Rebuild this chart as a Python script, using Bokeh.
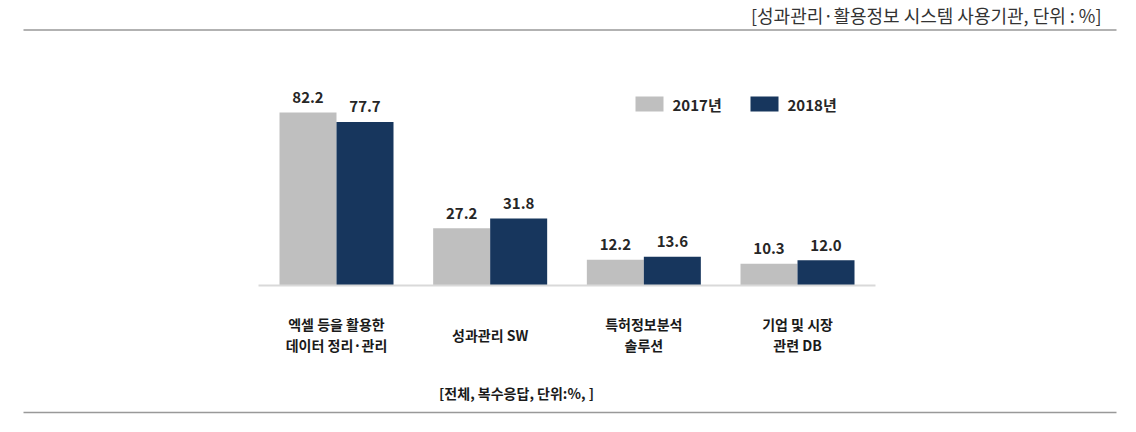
from bokeh.plotting import figure
from bokeh.models import Range1d, ColumnDataSource
from bokeh.core.properties import value
from bokeh.embed import file_html
from bokeh.resources import INLINE

# ---- data ----
categories = ["엑셀 등을 활용한\n데이터 정리·관리", "성과관리 SW", "특허정보분석\n솔루션", "기업 및 시장\n관련 DB"]
series_names = ["2017년", "2018년"]
values_2017 = [82.2, 27.2, 12.2, 10.3]
values_2018 = [77.7, 31.8, 13.6, 12.0]
title_text = "[성과관리·활용정보 시스템 사용기관, 단위 : %]"
caption_text = "[전체, 복수응답, 단위:%, ]"

# ---- layout (pixels from the top-left of the picture) ----
W, H = 1120, 416
CX0 = 336.0      # px of first group centre
SX = 153.67      # px per group
BASE = 285.0     # px (from top) of y=0
SY = 2.105       # px per %

def X(px):
    return (px - CX0) / SX

def Y(py):
    return (BASE - py) / SY

GRAY = "#BFBFBF"
NAVY = "#17365D"
FONT = "Noto Sans CJK KR"

p = figure(width=W, height=H, output_backend="svg", toolbar_location=None,
           x_range=Range1d(X(0), X(W)), y_range=Range1d(Y(H), Y(0)),
           min_border=0, outline_line_color=None)
p.axis.visible = False
p.grid.visible = False
p.background_fill_color = "white"

bw = 57 / SX
idx = list(range(len(categories)))
src = ColumnDataSource(dict(
    x=idx,
    x17=[i - bw / 2 for i in idx],
    x18=[i + bw / 2 for i in idx],
    v17=values_2017,
    v18=values_2018,
    l17=[f"{v:.1f}" for v in values_2017],
    l18=[f"{v:.1f}" for v in values_2018],
    cat=categories,
))

p.vbar(x="x17", top="v17", bottom=0, width=bw, source=src, fill_color=GRAY, line_color=None)
p.vbar(x="x18", top="v18", bottom=0, width=bw, source=src, fill_color=NAVY, line_color=None)

# baseline
p.segment(x0=[X(258)], y0=[0], x1=[X(875)], y1=[0], line_color="#D9D9D9", line_width=2)

# value labels
for xcol, lcol, vcol in (("x17", "l17", "v17"), ("x18", "l18", "v18")):
    p.text(x=xcol, y=vcol, text=lcol, source=src, text_align="center", text_baseline="middle",
           y_offset=-15, text_font=value(FONT), text_font_style="bold",
           text_font_size="15px", text_color="#262626")

# category labels
p.text(x="x", y=0, text="cat", source=src, text_align="center", text_baseline="middle",
       y_offset=49, text_font=value(FONT), text_font_style="bold", text_font_size="14px",
       text_color="#1a1a1a", text_line_height=1.02)

# legend
leg = [(GRAY, series_names[0], 635, 672), (NAVY, series_names[1], 750, 787)]
for col, name, x0, tx in leg:
    p.quad(left=[X(x0)], right=[X(x0 + 28)], top=[Y(96)], bottom=[Y(111)],
           fill_color=col, line_color=None)
    p.text(x=[X(tx)], y=[Y(104)], text=[name], text_align="left", text_baseline="middle",
           text_font=value(FONT), text_font_style="bold", text_font_size="15px",
           text_color="#262626")

# title, rules, caption
p.text(x=[X(1101)], y=[Y(14)], text=[title_text], text_align="right", text_baseline="middle",
       text_font=value(FONT), text_font_size="18px", text_color="#333333")
p.segment(x0=[X(23), X(23)], y0=[Y(29.5), Y(412)], x1=[X(1116), X(1116)], y1=[Y(29.5), Y(412)],
          line_color="#999999", line_width=1.5)
p.text(x=[X(516)], y=[Y(392)], text=[caption_text], text_align="center", text_baseline="middle",
       text_font=value(FONT), text_font_style="bold", text_font_size="14px",
       text_color="#1a1a1a")

open("out.html", "w").write(file_html(p, INLINE))
